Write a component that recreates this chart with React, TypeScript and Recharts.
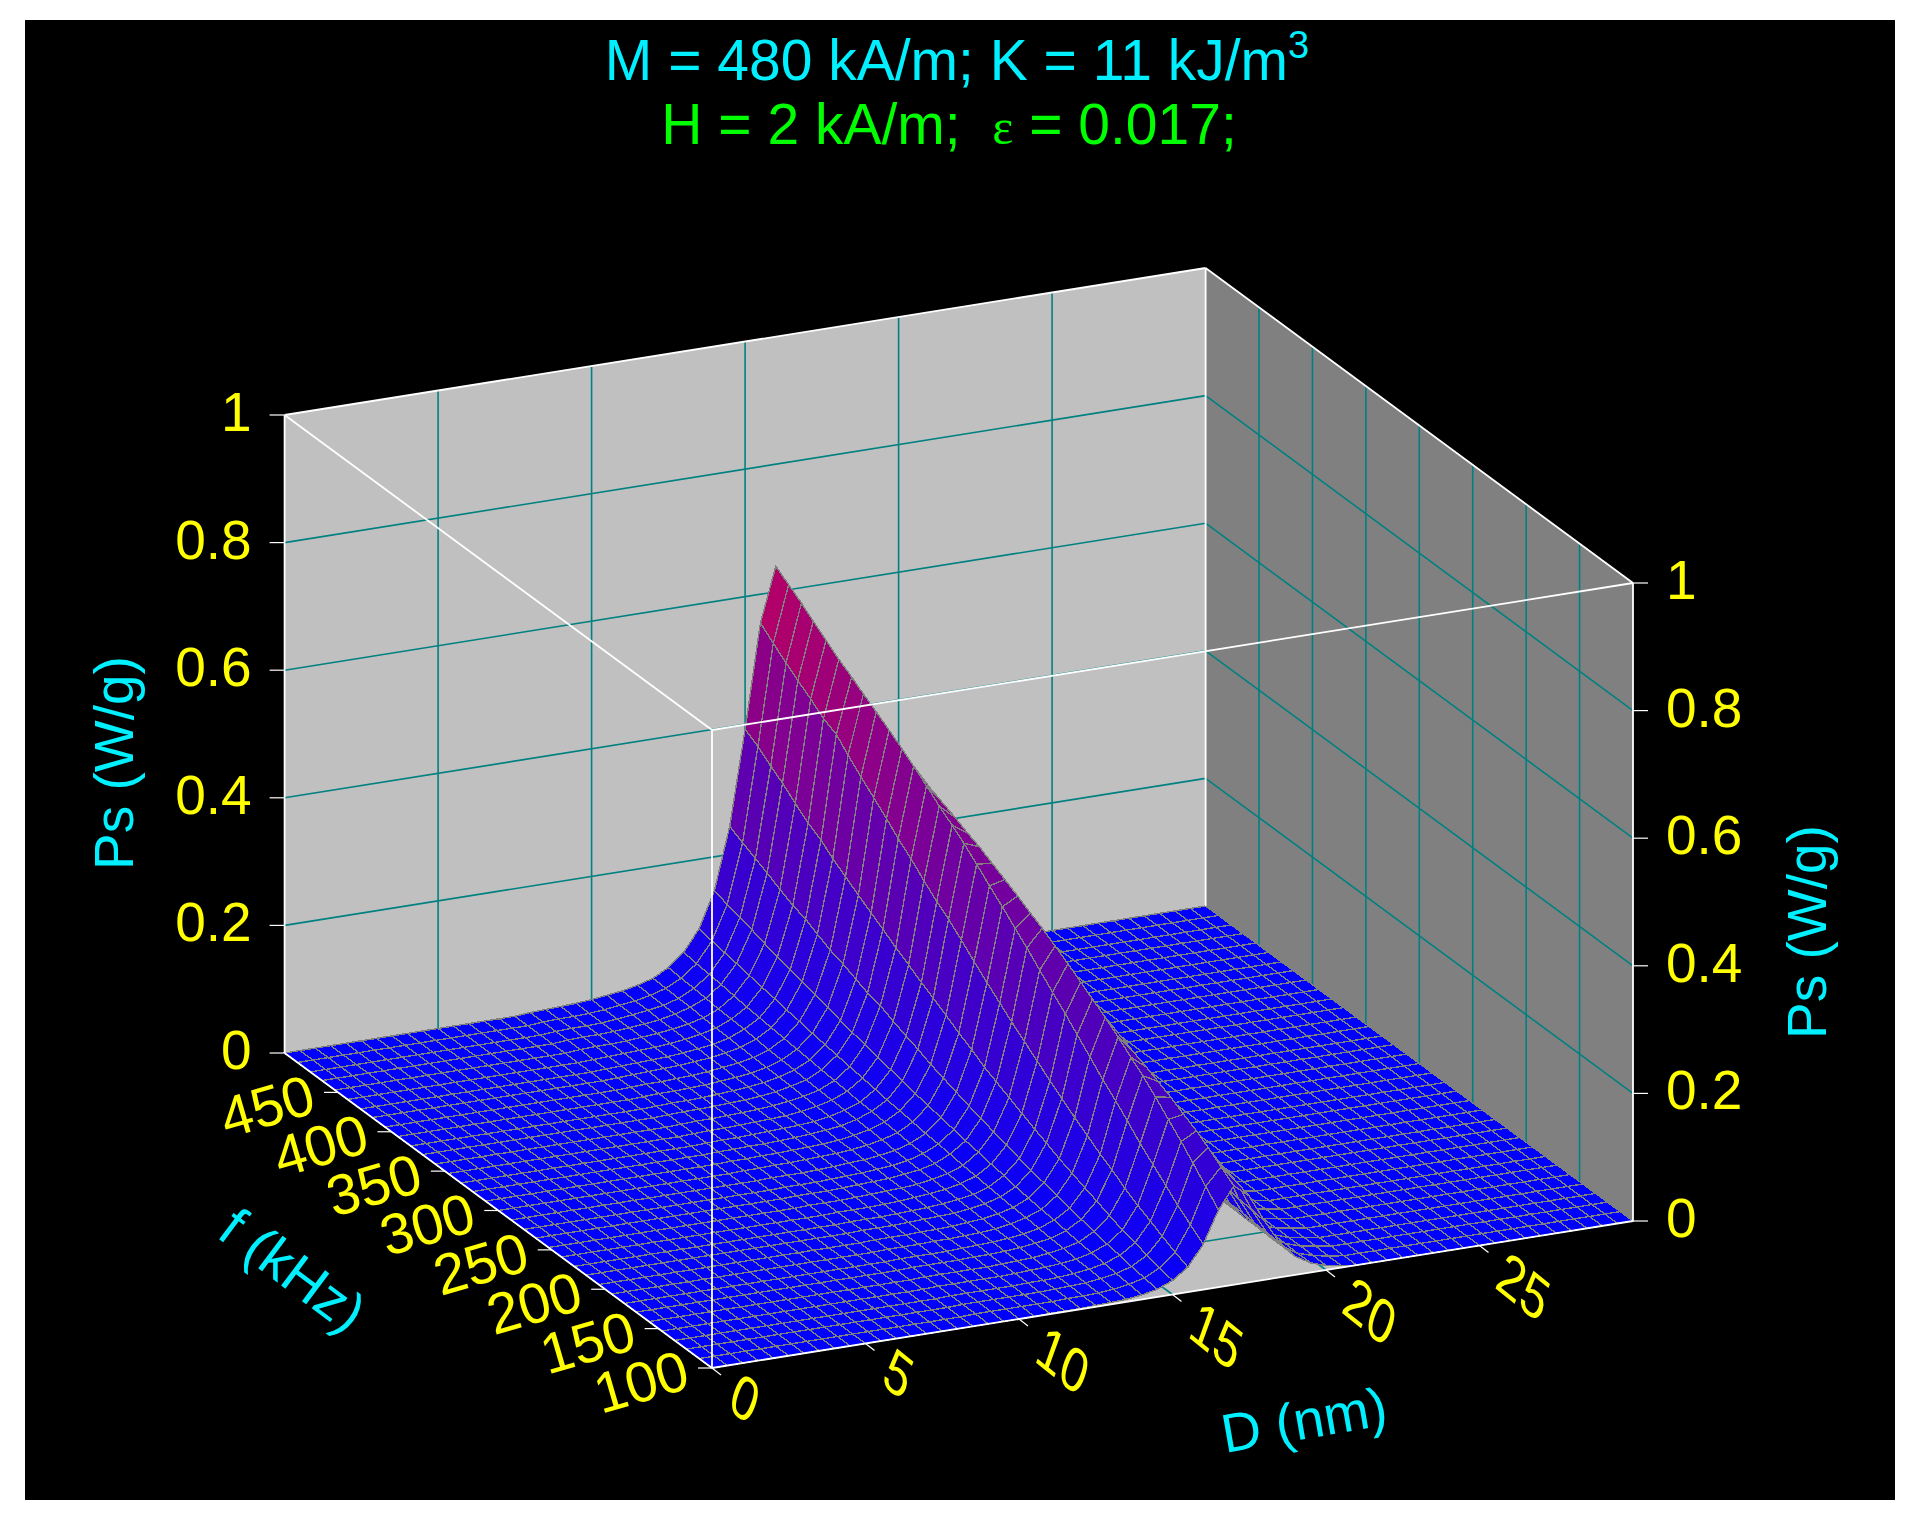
import React from 'react';
import { ScatterChart, Scatter, XAxis, YAxis } from 'recharts';

const W = 1915;
const H = 1520;

// axis ticks
const dTicks = [0, 5, 10, 15, 20, 25];
const fTicks = [100, 150, 200, 250, 300, 350, 400, 450];
const pTicks = [0, 0.2, 0.4, 0.6, 0.8, 1];

// mesh lines of the surface
const meshD = [
  0, 0.5, 1, 1.5, 2, 2.5, 3, 3.5, 4, 4.5, 5, 5.5, 6, 6.5, 7, 7.5, 8, 8.5, 9, 9.5,
  10, 10.5, 11, 11.5, 12, 12.5, 13, 13.5, 14, 14.5, 15, 15.5, 16, 16.5, 17, 17.5, 18, 18.5, 19, 19.5,
  20, 20.5, 21, 21.5, 22, 22.5, 23, 23.5, 24, 24.5, 25, 25.5, 26, 26.5, 27, 27.5, 28, 28.5, 29, 29.5, 30,
];
const meshF = [
  100, 112, 124, 135, 147, 159, 171, 182, 194, 206, 218, 229, 241, 253, 265, 276, 288, 300,
  312, 324, 335, 347, 359, 371, 382, 394, 406, 418, 429, 441, 453, 465, 476, 488, 500,
];

const ridgeD = [8, 8.5, 9, 9.5, 10, 10.5, 11, 11.5, 12, 12.5, 13, 13.5, 14, 14.5, 15, 15.5, 16, 16.5, 17, 17.5, 18, 18.5, 19, 19.5, 20, 20.5];
const ridgeP = [
  [0, 0, 0, 0, 0, 0, 1, 1, 1, 2, 3, 4, 7, 12, 22, 39, 71, 121, 155, 135, 92, 54, 29, 15, 7, 3],
  [0, 0, 1, 1, 1, 1, 1, 1, 2, 2, 3, 5, 9, 15, 27, 48, 87, 143, 170, 143, 95, 55, 30, 15, 8, 3],
  [0, 0, 1, 1, 1, 1, 1, 1, 2, 3, 4, 7, 11, 18, 32, 58, 103, 165, 185, 150, 97, 56, 30, 16, 8, 4],
  [0, 0, 1, 1, 1, 1, 1, 2, 2, 3, 5, 8, 13, 22, 38, 68, 120, 185, 198, 156, 101, 58, 31, 16, 8, 4],
  [0, 0, 1, 1, 1, 1, 1, 2, 3, 4, 6, 9, 15, 25, 43, 78, 138, 205, 209, 161, 103, 58, 31, 16, 8, 4],
  [0, 0, 1, 1, 1, 1, 1, 2, 3, 4, 7, 11, 17, 30, 51, 90, 156, 225, 221, 168, 105, 59, 32, 16, 8, 4],
  [0, 0, 1, 1, 1, 1, 2, 2, 3, 5, 8, 12, 20, 34, 59, 104, 177, 244, 231, 172, 107, 60, 32, 17, 8, 4],
  [0, 0, 1, 1, 1, 1, 2, 3, 4, 6, 9, 14, 23, 38, 66, 115, 195, 259, 240, 175, 109, 61, 32, 17, 8, 4],
  [0, 0, 1, 1, 1, 2, 2, 3, 4, 6, 10, 16, 25, 43, 74, 129, 213, 276, 249, 180, 109, 62, 33, 17, 8, 4],
  [0, 0, 1, 1, 1, 2, 2, 3, 5, 7, 11, 17, 28, 48, 82, 143, 234, 292, 259, 184, 111, 62, 33, 17, 8, 4],
  [0, 0, 1, 1, 1, 2, 3, 4, 5, 8, 12, 19, 31, 53, 92, 158, 254, 306, 265, 187, 113, 63, 34, 17, 9, 4],
  [0, 0, 1, 1, 1, 2, 3, 4, 6, 9, 13, 21, 35, 58, 100, 172, 273, 319, 272, 189, 114, 63, 34, 17, 9, 4],
  [0, 0, 1, 1, 1, 2, 3, 5, 7, 10, 15, 23, 38, 64, 110, 188, 292, 333, 280, 191, 116, 64, 34, 17, 9, 4],
  [0, 1, 1, 1, 2, 3, 4, 5, 7, 11, 16, 25, 42, 70, 120, 204, 312, 346, 286, 194, 117, 65, 35, 17, 9, 4],
  [0, 1, 1, 1, 2, 3, 4, 5, 8, 11, 17, 28, 45, 76, 130, 220, 332, 359, 294, 198, 118, 65, 35, 18, 9, 4],
  [0, 1, 1, 1, 2, 3, 4, 6, 8, 12, 19, 30, 49, 82, 139, 236, 349, 369, 298, 200, 119, 65, 35, 18, 9, 4],
  [0, 1, 1, 1, 2, 3, 5, 6, 9, 13, 20, 32, 53, 89, 152, 253, 368, 381, 303, 201, 119, 66, 35, 18, 9, 4],
  [1, 1, 2, 2, 3, 4, 5, 7, 10, 15, 22, 35, 57, 96, 163, 271, 386, 392, 310, 202, 122, 67, 35, 18, 9, 4],
  [1, 1, 2, 2, 3, 4, 5, 7, 11, 16, 24, 38, 61, 103, 176, 290, 405, 403, 314, 206, 122, 67, 36, 18, 9, 4],
  [1, 1, 2, 2, 3, 4, 6, 8, 11, 17, 26, 40, 66, 112, 188, 308, 423, 414, 318, 207, 123, 68, 36, 18, 9, 4],
  [1, 2, 2, 3, 4, 5, 6, 8, 12, 18, 27, 43, 70, 119, 199, 322, 438, 422, 324, 210, 124, 68, 36, 18, 9, 4],
  [1, 2, 2, 3, 4, 5, 6, 9, 13, 19, 29, 46, 75, 127, 212, 340, 453, 432, 327, 212, 126, 69, 37, 18, 9, 4],
  [1, 2, 2, 3, 4, 5, 7, 10, 14, 20, 31, 49, 80, 137, 224, 359, 470, 441, 331, 216, 126, 69, 37, 19, 9, 4],
  [1, 2, 2, 3, 4, 5, 7, 10, 15, 21, 33, 52, 84, 142, 238, 376, 486, 450, 337, 215, 126, 70, 37, 19, 9, 4],
  [1, 2, 2, 3, 4, 6, 8, 11, 16, 23, 35, 55, 89, 150, 250, 394, 500, 458, 340, 217, 128, 70, 37, 19, 9, 5],
  [1, 2, 2, 3, 4, 6, 8, 11, 16, 24, 37, 58, 95, 159, 263, 412, 514, 466, 344, 219, 129, 70, 37, 19, 9, 4],
  [1, 2, 2, 3, 4, 6, 9, 12, 17, 25, 39, 62, 100, 166, 277, 430, 528, 475, 347, 222, 129, 71, 37, 19, 9, 4],
  [1, 2, 3, 4, 5, 7, 9, 13, 18, 27, 41, 65, 105, 176, 291, 449, 541, 483, 351, 222, 130, 71, 38, 19, 9, 4],
  [1, 2, 3, 4, 5, 7, 10, 13, 19, 29, 43, 69, 111, 186, 306, 468, 554, 490, 355, 222, 130, 71, 38, 19, 9, 4],
  [1, 2, 3, 4, 5, 7, 10, 14, 20, 30, 45, 72, 116, 193, 318, 478, 567, 497, 358, 224, 130, 71, 38, 19, 10, 5],
  [2, 3, 3, 4, 6, 8, 11, 15, 21, 31, 48, 76, 122, 203, 334, 494, 582, 503, 360, 225, 131, 72, 38, 19, 9, 5],
  [2, 3, 3, 4, 6, 8, 11, 16, 23, 33, 51, 80, 129, 214, 351, 508, 597, 512, 363, 226, 132, 73, 38, 20, 10, 5],
  [2, 3, 3, 4, 6, 9, 12, 16, 23, 35, 53, 83, 135, 223, 364, 522, 612, 518, 367, 228, 133, 73, 38, 19, 10, 5],
  [2, 3, 3, 4, 6, 9, 12, 17, 24, 36, 55, 87, 140, 233, 380, 538, 626, 523, 369, 229, 133, 73, 38, 20, 10, 5],
  [2, 3, 4, 5, 7, 10, 13, 18, 25, 38, 58, 91, 147, 244, 392, 555, 640, 529, 371, 231, 133, 73, 39, 20, 10, 5],
];

const D_MAX = 30;
const F_MIN = 100;
const F_MAX = 500;

const BLACK = '#000000';
const CYAN = '#00f0ff';
const GREEN = '#00ff00';
const YELLOW = '#ffff00';
const TEAL = '#008080';
const WHITE = '#ffffff';
const FONT = '"Liberation Sans", Arial, sans-serif';

// parallel projection of the plot box on the page
const project = (D: number, f: number, P: number) => ({
  x: 712 + (D / D_MAX) * 921 - ((f - F_MIN) / (F_MAX - F_MIN)) * 427.4,
  y: 1368 - (D / D_MAX) * 147 - ((f - F_MIN) / (F_MAX - F_MIN)) * 315 - P * 638,
});

const polygon = (corners: { x: number; y: number }[], fill: string, stroke: string, strokeWidth: number) => ({
  x: corners[0].x,
  y: corners[0].y,
  offsets: corners.map((c) => [c.x - corners[0].x, c.y - corners[0].y]),
  fill,
  stroke,
  strokeWidth,
});

const segment = (a: { x: number; y: number }, b: { x: number; y: number }, stroke: string, strokeWidth = 1.6) =>
  polygon([a, b], 'none', stroke, strokeWidth);

const heightAt = (row: number, col: number) => {
  const k = ridgeD.indexOf(meshD[col]);
  return k < 0 ? 0 : ridgeP[row][k] / 1000;
};

const surfaceColor = (p: number) => {
  const red = Math.min(255, Math.round((255 * p) / 0.85));
  const blue = Math.max(0, Math.round(255 * (1 - p)));
  return `rgb(${red},0,${blue})`;
};

// back walls, floor and their grid
const buildBox = () => {
  const marks: any[] = [];
  marks.push(
    polygon(
      [project(0, F_MAX, 0), project(D_MAX, F_MAX, 0), project(D_MAX, F_MAX, 1), project(0, F_MAX, 1)],
      '#c0c0c0',
      'none',
      0,
    ),
  );
  marks.push(
    polygon(
      [project(D_MAX, F_MAX, 0), project(D_MAX, F_MIN, 0), project(D_MAX, F_MIN, 1), project(D_MAX, F_MAX, 1)],
      '#808080',
      'none',
      0,
    ),
  );
  marks.push(
    polygon(
      [project(0, F_MIN, 0), project(D_MAX, F_MIN, 0), project(D_MAX, F_MAX, 0), project(0, F_MAX, 0)],
      '#c0c0c0',
      'none',
      0,
    ),
  );
  pTicks.slice(1, -1).forEach((p) => {
    marks.push(segment(project(0, F_MAX, p), project(D_MAX, F_MAX, p), TEAL));
    marks.push(segment(project(D_MAX, F_MAX, p), project(D_MAX, F_MIN, p), TEAL));
  });
  dTicks.slice(1).forEach((d) => {
    marks.push(segment(project(d, F_MAX, 0), project(d, F_MAX, 1), TEAL));
    marks.push(segment(project(d, F_MIN, 0), project(d, F_MAX, 0), TEAL));
  });
  fTicks.slice(1).forEach((f) => {
    marks.push(segment(project(D_MAX, f, 0), project(D_MAX, f, 1), TEAL));
    marks.push(segment(project(0, f, 0), project(D_MAX, f, 0), TEAL));
  });
  return marks;
};

// painted from the far corner to the near one
const buildSurface = () => {
  const marks: any[] = [];
  for (let r = meshF.length - 2; r >= 0; r--) {
    for (let c = meshD.length - 2; c >= 0; c--) {
      const p00 = heightAt(r, c);
      const p01 = heightAt(r, c + 1);
      const p10 = heightAt(r + 1, c);
      const p11 = heightAt(r + 1, c + 1);
      marks.push(
        polygon(
          [
            project(meshD[c], meshF[r], p00),
            project(meshD[c + 1], meshF[r], p01),
            project(meshD[c + 1], meshF[r + 1], p11),
            project(meshD[c], meshF[r + 1], p10),
          ],
          surfaceColor((p00 + p01 + p10 + p11) / 4),
          '#808080',
          1.4,
        ),
      );
    }
  }
  return marks;
};

// white frame and tick marks, on top of the surface
const buildFrame = () => {
  const marks: any[] = [];
  const frame = [
    [project(0, F_MAX, 1), project(D_MAX, F_MAX, 1)],
    [project(D_MAX, F_MAX, 1), project(D_MAX, F_MIN, 1)],
    [project(D_MAX, F_MIN, 1), project(0, F_MIN, 1)],
    [project(0, F_MIN, 1), project(0, F_MAX, 1)],
    [project(0, F_MAX, 0), project(0, F_MAX, 1)],
    [project(0, F_MIN, 0), project(0, F_MIN, 1)],
    [project(D_MAX, F_MIN, 0), project(D_MAX, F_MIN, 1)],
    [project(D_MAX, F_MAX, 0), project(D_MAX, F_MAX, 1)],
    [project(0, F_MIN, 0), project(0, F_MAX, 0)],
    [project(0, F_MIN, 0), project(D_MAX, F_MIN, 0)],
  ];
  frame.forEach(([a, b]) => marks.push(segment(a, b, WHITE, 1.8)));
  const shift = (pt: { x: number; y: number }, dx: number, dy: number) => ({ x: pt.x + dx, y: pt.y + dy });
  pTicks.forEach((p) => {
    const left = project(0, F_MAX, p);
    const right = project(D_MAX, F_MIN, p);
    marks.push(segment(left, shift(left, -15, 0), WHITE, 1.2));
    marks.push(segment(right, shift(right, 15, 0), WHITE, 1.2));
  });
  fTicks.forEach((f) => {
    const pt = project(0, f, 0);
    marks.push(segment(pt, shift(pt, -14, 0), WHITE, 1.2));
  });
  dTicks.forEach((d) => {
    const pt = project(d, F_MIN, 0);
    marks.push(segment(pt, shift(pt, 9, 7), WHITE, 1.2));
  });
  return marks;
};

const buildLabels = () => {
  const labels: any[] = [];
  pTicks.forEach((p) => {
    const left = project(0, F_MAX, p);
    const right = project(D_MAX, F_MIN, p);
    labels.push({ x: left.x - 33, y: left.y - 3, text: String(p), color: YELLOW, size: 55, anchor: 'end' });
    labels.push({ x: right.x + 33, y: right.y - 3, text: String(p), color: YELLOW, size: 55, anchor: 'start' });
  });
  fTicks.forEach((f) => {
    const pt = project(0, f, 0);
    labels.push({
      x: pt.x - 71,
      y: pt.y + 13.5,
      text: String(f),
      color: YELLOW,
      size: 57,
      anchor: 'middle',
      matrix: [0.96, -0.28, 0.28, 0.96],
    });
  });
  dTicks.forEach((d) => {
    const pt = project(d, F_MIN, 0);
    const two = d >= 10;
    labels.push({
      x: pt.x + (two ? 44 : 33),
      y: pt.y + (two ? 41 : 30),
      text: String(d),
      color: YELLOW,
      size: 58,
      anchor: 'middle',
      matrix: [0.72, 0.58, -0.34, 0.94],
    });
  });
  labels.push({ x: 114, y: 763, text: 'Ps (W/g)', color: CYAN, size: 55, anchor: 'middle', matrix: [0, -1, 1, 0] });
  labels.push({ x: 1807, y: 932, text: 'Ps (W/g)', color: CYAN, size: 55, anchor: 'middle', matrix: [0, -1, 1, 0] });
  labels.push({ x: 293, y: 1270, text: 'f (kHz)', color: CYAN, size: 56, anchor: 'middle', matrix: [0.8, 0.6, -0.6, 0.8] });
  labels.push({ x: 1304, y: 1420, text: 'D (nm)', color: CYAN, size: 55, anchor: 'middle', matrix: [0.98, -0.17, 0.17, 0.98] });
  return labels;
};

const titleMarks = [{ x: 957, y: 62 }];

const boxMarks = buildBox();
const surfaceMarks = buildSurface();
const frameMarks = buildFrame();
const labelMarks = buildLabels();

const PolyShape = ({ cx, cy, payload }: any) => {
  const { offsets, fill, stroke, strokeWidth } = payload;
  const points = offsets.map(([dx, dy]: number[]) => `${cx + dx},${cy + dy}`).join(' ');
  if (offsets.length === 2) {
    return <polyline points={points} fill="none" stroke={stroke} strokeWidth={strokeWidth} />;
  }
  return <polygon points={points} fill={fill} stroke={stroke} strokeWidth={strokeWidth} shapeRendering="crispEdges" />;
};

const LabelShape = ({ cx, cy, payload }: any) => {
  const m = payload.matrix || [1, 0, 0, 1];
  return (
    <text
      transform={`matrix(${m[0]} ${m[1]} ${m[2]} ${m[3]} ${cx} ${cy})`}
      textAnchor={payload.anchor}
      dominantBaseline="central"
      fontFamily={FONT}
      fontSize={payload.size}
      fill={payload.color}
    >
      {payload.text}
    </text>
  );
};

const TitleShape = ({ cx, cy }: any) => (
  <g fontFamily={FONT} fontSize={57}>
    <text x={cx} y={cy + 18} textAnchor="middle" fill={CYAN}>
      M = 480 kA/m; K = 11 kJ/m
      <tspan fontSize={38} dy={-22}>
        3
      </tspan>
    </text>
    <text x={cx - 8} y={cy + 82} textAnchor="middle" fill={GREEN} xmlSpace="preserve">
      H = 2 kA/m;{'  '}
      <tspan fontFamily='"Liberation Serif", serif' fontSize={50}>
        ε
      </tspan>
      {' = 0.017;'}
    </text>
  </g>
);

export default function App() {
  return (
    <div style={{ position: 'absolute', left: 0, top: 0, width: W, height: H, background: WHITE }}>
      <div style={{ position: 'absolute', left: 25, top: 20, width: 1870, height: 1480, background: BLACK }} />
      <ScatterChart width={W} height={H} margin={{ top: 0, right: 0, bottom: 0, left: 0 }} style={{ position: 'absolute', left: 0, top: 0 }}>
        <XAxis type="number" dataKey="x" domain={[0, W]} hide />
        <YAxis type="number" dataKey="y" domain={[0, H]} reversed hide />
        <Scatter data={boxMarks} shape={PolyShape} isAnimationActive={false} />
        <Scatter data={surfaceMarks} shape={PolyShape} isAnimationActive={false} />
        <Scatter data={frameMarks} shape={PolyShape} isAnimationActive={false} />
        <Scatter data={labelMarks} shape={LabelShape} isAnimationActive={false} />
        <Scatter data={titleMarks} shape={TitleShape} isAnimationActive={false} />
      </ScatterChart>
    </div>
  );
}
